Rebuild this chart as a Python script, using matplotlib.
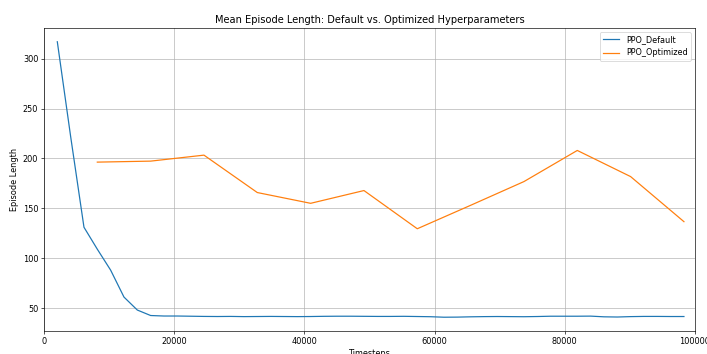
import matplotlib.pyplot as plt

# default run: dense early logging, then every 2048 steps once it settles
default_steps = [2048, 4096, 6144, 8192, 10240, 12288, 14336, 16384] + \
    [16384 + 2048 * (i + 1) for i in range(40)]
default_len = [317, 222, 131, 109, 88, 61, 48, 42.5,
               42, 42, 41.8, 41.6, 41.5, 41.6, 41.4, 41.5,
               41.6, 41.5, 41.4, 41.5, 41.7, 41.8, 41.8, 41.7,
               41.6, 41.6, 41.7, 41.5, 41.3, 40.8, 40.9, 41.2,
               41.4, 41.5, 41.4, 41.3, 41.5, 41.8, 41.8, 41.8,
               41.9, 41.2, 41.0, 41.4, 41.6, 41.6, 41.5, 41.5]

# tuned run logs every 8192 steps
opt_steps = [8192 * (i + 1) for i in range(12)]
opt_len = [196.3, 197.3, 203.3, 165.8, 155, 167.8, 129.5, 153, 176.8, 208, 181.8, 136.6]

dpi = 58.92
fig = plt.figure(figsize=(707 / dpi, 354 / dpi), dpi=dpi)
ax = fig.add_axes([0.0622, 0.065, 0.9208, 0.856])

ax.plot(default_steps, default_len, label='PPO_Default')
ax.plot(opt_steps, opt_len, label='PPO_Optimized')

ax.set_xlim(0, 100000)
ax.set_title('Mean Episode Length: Default vs. Optimized Hyperparameters')
ax.set_xlabel('Timesteps')
ax.set_ylabel('Episode Length')
ax.grid(True)
ax.legend(loc='upper right')

fig.savefig('out.png', dpi=dpi)
